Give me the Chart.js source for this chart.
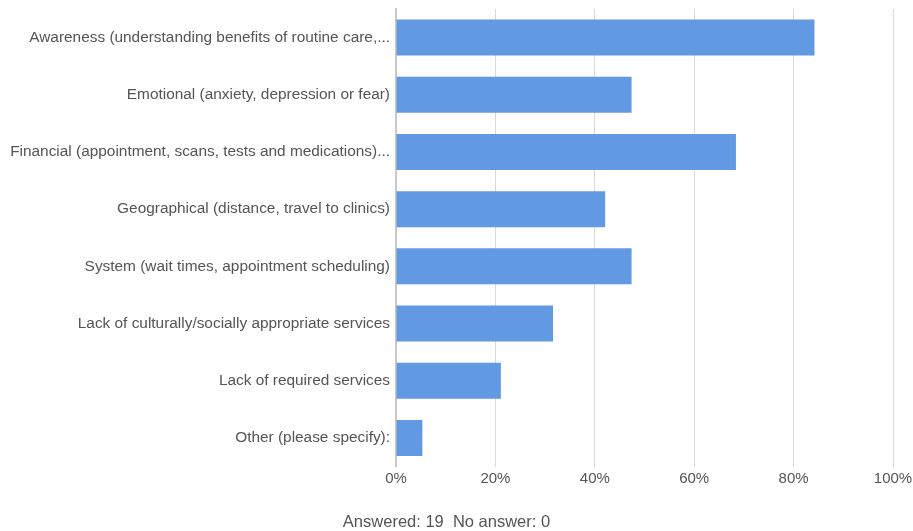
<!DOCTYPE html>
<html>
<head>
<meta charset="utf-8">
<script src="https://cdn.jsdelivr.net/npm/chart.js@4/dist/chart.umd.min.js"></script>
<style>
  html, body { margin: 0; padding: 0; background: #fff; }
  #wrap { position: relative; width: 913px; height: 531px; }
</style>
</head>
<body>
<div id="wrap"><canvas id="barriers"></canvas></div>
<script>
const categories = [
  'Awareness (understanding benefits of routine care,...',
  'Emotional (anxiety, depression or fear)',
  'Financial (appointment, scans, tests and medications)...',
  'Geographical (distance, travel to clinics)',
  'System (wait times, appointment scheduling)',
  'Lack of culturally/socially appropriate services',
  'Lack of required services',
  'Other (please specify):',
];
const percentages = [84.2, 47.4, 68.4, 42.1, 47.4, 31.6, 21.1, 5.3];
const xTicks = [0, 20, 40, 60, 80, 100];
const answered = 19;
const noAnswer = 0;

(function () {
  const textColor = '#555';
  const family = "'Liberation Sans', Arial, sans-serif";

  new Chart(document.getElementById('barriers'), {
    type: 'bar',
    data: {
      labels: categories,
      datasets: [{
        data: percentages,
        backgroundColor: '#6199e2',
        borderWidth: 0,
        categoryPercentage: 1,
        barPercentage: 0.63,
      }],
    },
    options: {
      indexAxis: 'y',
      responsive: true,
      maintainAspectRatio: false,
      animation: false,
      layout: { padding: { left: 0, right: 20, top: 9, bottom: 0 } },
      plugins: {
        legend: { display: false },
        tooltip: { enabled: false },
        title: {
          display: true,
          position: 'bottom',
          text: `Answered: ${answered}  No answer: ${noAnswer}`,
          color: textColor,
          font: { family, size: 16.5, weight: 'normal', lineHeight: 1 },
          padding: { top: 24, bottom: 0 },
        },
      },
      scales: {
        x: {
          min: 0,
          max: 100,
          afterBuildTicks: (scale) => { scale.ticks = xTicks.map((v) => ({ value: v })); },
          afterFit: (scale) => {
            scale.paddingLeft = 0;
            scale.paddingRight = 0;
          },
          ticks: {
            color: textColor,
            font: { family, size: 15 },
            padding: 3,
            callback: (v) => v + '%',
          },
          grid: { color: '#d9d9d9', drawTicks: false },
          border: { display: false },
        },
        y: {
          afterFit: (scale) => {
            // fixed label column, and no extra room above/below for the labels
            scale.width = 396;
            scale.paddingTop = 0;
            scale.paddingBottom = 0;
          },
          ticks: { color: textColor, font: { family, size: 15.4 }, padding: 6 },
          grid: { display: false, drawTicks: false },
          border: { display: true, color: '#c9c9c9', width: 2 },
        },
      },
    },
  });
})();
</script>
</body>
</html>
